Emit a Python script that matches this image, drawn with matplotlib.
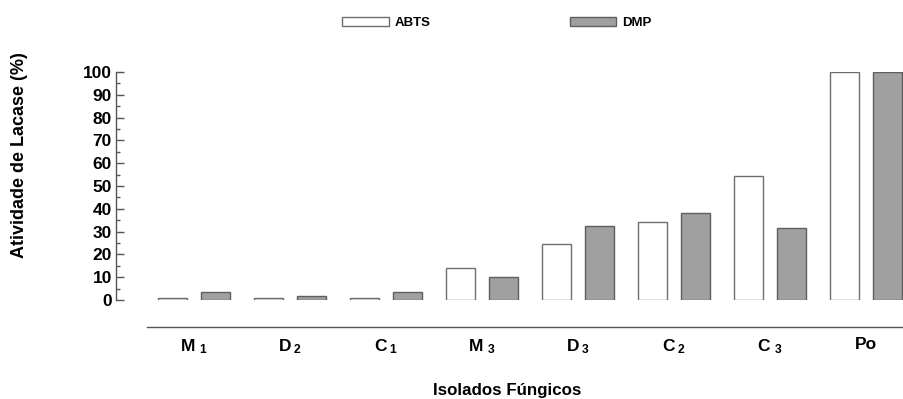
import matplotlib
matplotlib.use("Agg")
import matplotlib.pyplot as plt
import numpy as np
from matplotlib.ticker import MultipleLocator
from matplotlib.patches import Patch

plt.rcParams['font.family'] = ['Liberation Sans', 'DejaVu Sans']
plt.rcParams['font.weight'] = 'bold'
plt.rcParams['mathtext.fontset'] = 'custom'
plt.rcParams['mathtext.rm'] = 'Liberation Sans:bold'
plt.rcParams['mathtext.bf'] = 'Liberation Sans:bold'
plt.rcParams['mathtext.it'] = 'Liberation Sans:bold'

categories = [r'$\mathrm{M\ _1}$', r'$\mathrm{D\,_2}$', r'$\mathrm{C\,_1}$', r'$\mathrm{M\ _3}$',
              r'$\mathrm{D\,_3}$', r'$\mathrm{C\,_2}$', r'$\mathrm{C\ _3}$', 'Po']
abts = [1, 1, 1, 14, 24.4, 34.1, 54.6, 100]
dmp = [3.5, 1.8, 3.5, 10, 32.6, 38.3, 31.6, 100]
series_names = ['ABTS', 'DMP']
yticks = list(range(0, 101, 10))

fig = plt.figure(figsize=(9.04, 3.99), dpi=100)
ax = fig.add_axes([116/904, 99/399, 788/904, 228/399])

x = np.arange(len(categories))
w = 0.3
off = 0.225
ax.bar(x - off, abts, w, facecolor='white', edgecolor='#6e6e6e', linewidth=1.0, label=series_names[0])
ax.bar(x + off, dmp, w, facecolor='#a0a0a0', edgecolor='#5e5e5e', linewidth=1.0, label=series_names[1])

ax.set_ylim(0, 100)
ax.set_xlim(-0.8125, 7.396)
ax.set_yticks(yticks)
ax.yaxis.set_minor_locator(MultipleLocator(5))
ax.tick_params(axis='y', which='major', direction='in', length=5.8, width=1, color='#555555',
               labelsize=12.5, pad=3)
ax.tick_params(axis='y', which='minor', direction='in', length=2.9, width=1, color='#555555')

ax.set_xticks(x)
ax.tick_params(axis='x', length=0, pad=7, labelsize=12.5)
ax.set_xticklabels(categories, fontweight='bold')
for lab in ax.get_yticklabels():
    lab.set_fontweight('bold')

for s in ['top', 'right']:
    ax.spines[s].set_visible(False)
ax.spines['left'].set_color('#555555')
ax.spines['left'].set_linewidth(1)
ax.spines['bottom'].set_color('#555555')
ax.spines['bottom'].set_linewidth(1)
ax.spines['bottom'].set_position(('outward', 19.5))
ax.spines['bottom'].set_bounds(-0.49, 7.396)

fig.text(20/904, 1 - 155/399, 'Atividade de Lacase (%)', rotation=90, ha='center', va='center',
         fontsize=13, fontweight='bold')
fig.text(507/904, 1 - 391/399, 'Isolados Fúngicos', ha='center', va='center',
         fontsize=12.2, fontweight='bold')

handles = [Patch(facecolor='white', edgecolor='#6e6e6e', linewidth=1.0),
           Patch(facecolor='#a0a0a0', edgecolor='#5e5e5e', linewidth=1.0)]
leg = fig.legend(handles, series_names, loc='center', bbox_to_anchor=(497/904, 1 - 23/399),
                 ncol=2, frameon=False, prop={'weight': 'bold', 'size': 9.5},
                 handlelength=3.56, handleheight=0.6, handletextpad=0.45, columnspacing=10.5,
                 borderpad=0, borderaxespad=0)

fig.savefig('out.png', dpi=100)
